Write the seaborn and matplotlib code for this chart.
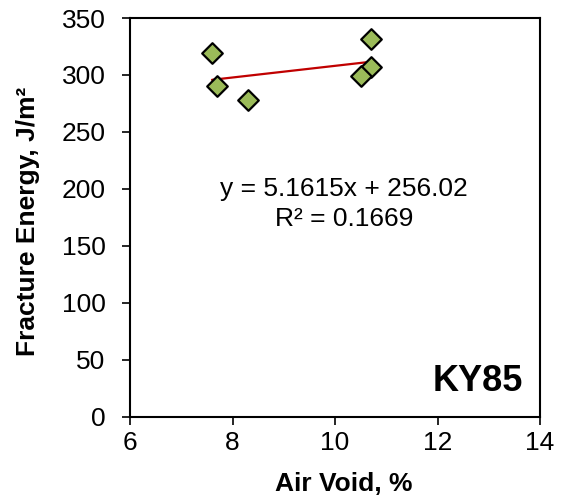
import numpy as np
import pandas as pd
import matplotlib
matplotlib.use("Agg")
import matplotlib.pyplot as plt
import seaborn as sns

air_void = [7.6, 7.7, 8.3, 10.7, 10.7, 10.5]
fracture_energy = [319, 290, 278, 332, 307, 299]
equation_text = "y = 5.1615x + 256.02"
r2_text = "R² = 0.1669"
label_text = "KY85"
x_ticks = [6, 8, 10, 12, 14]
y_ticks = [0, 50, 100, 150, 200, 250, 300, 350]

df = pd.DataFrame({"Air Void": air_void, "Fracture Energy": fracture_energy})

sns.set_theme(style="white", rc={"text.color": "black", "axes.labelcolor": "black",
                                 "xtick.color": "black", "ytick.color": "black"})
plt.rcParams["font.family"] = ["Liberation Sans", "DejaVu Sans"]

fig = plt.figure(figsize=(5.62, 4.97), dpi=100)
ax = fig.add_axes([130 / 562, 80.3 / 497, 410 / 562, 398.7 / 497])

sns.regplot(data=df, x="Air Void", y="Fracture Energy", ax=ax, ci=None,
            scatter=False, line_kws=dict(color="#C00000", lw=1.6, zorder=2))
sns.scatterplot(data=df, x="Air Void", y="Fracture Energy", ax=ax, marker="D",
                s=110, color="#9BBB59", edgecolor="black", linewidth=1.6, zorder=3)

ax.set_xlim(6, 14)
ax.set_ylim(0, 350)
ax.set_xticks(x_ticks)
ax.set_yticks(y_ticks)
ax.tick_params(axis="both", direction="out", length=5.5, width=1.2, labelsize=19,
               colors="black", bottom=True, left=True)
ax.tick_params(axis="x", pad=4.5)
ax.tick_params(axis="y", pad=12)
for sp in ax.spines.values():
    sp.set_color("black")
    sp.set_linewidth(1.5)

ax.set_xlabel("Air Void, %", fontsize=19, fontweight="bold")
ax.set_ylabel("Fracture Energy, J/m²", fontsize=19, fontweight="bold")
ax.xaxis.set_label_coords(0.522, -0.139)
ax.yaxis.set_label_coords(-0.22, 0.49)

ax.text(10.17, 193.4, equation_text, ha="center", va="baseline", fontsize=19)
ax.text(10.17, 167.1, r2_text, ha="center", va="baseline", fontsize=19)
ax.text(13.67, 22.8, label_text, ha="right", va="baseline", fontsize=26, fontweight="bold")

fig.savefig("out.png", dpi=100)
